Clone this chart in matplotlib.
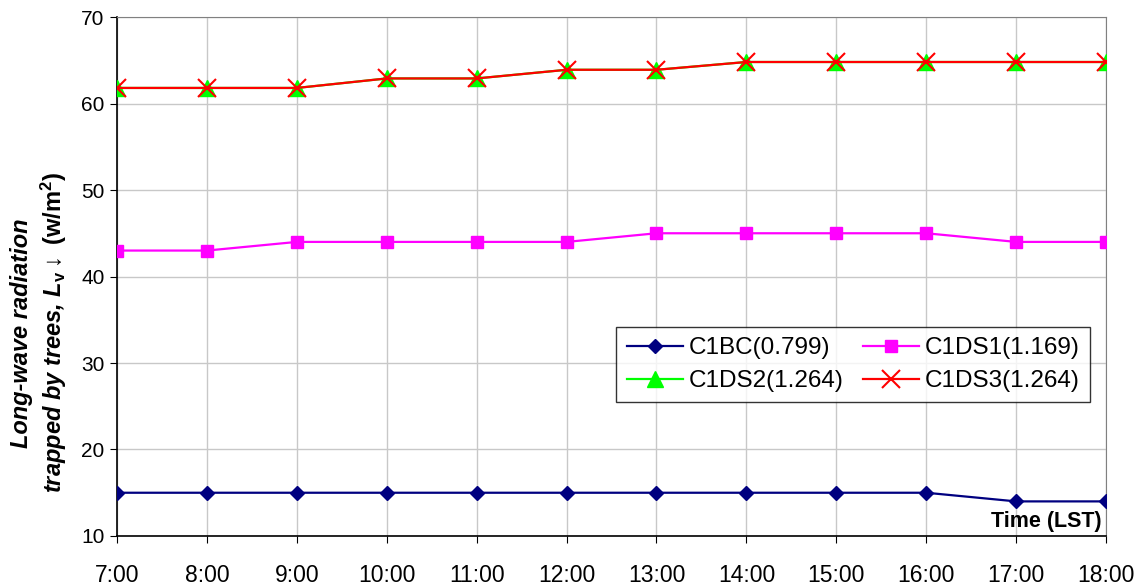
import matplotlib
matplotlib.use("Agg")
import matplotlib.pyplot as plt

plt.rcParams['font.family'] = ['Liberation Sans', 'DejaVu Sans']
plt.rcParams['mathtext.fontset'] = 'custom'
plt.rcParams['mathtext.rm'] = 'Liberation Sans:bold'
plt.rcParams['mathtext.it'] = 'Liberation Sans:italic:bold'
plt.rcParams['mathtext.bf'] = 'Liberation Sans:bold'

hours = ["7:00", "8:00", "9:00", "10:00", "11:00", "12:00",
         "13:00", "14:00", "15:00", "16:00", "17:00", "18:00"]
c1bc = [15, 15, 15, 15, 15, 15, 15, 15, 15, 15, 14, 14]
c1ds1 = [43, 43, 44, 44, 44, 44, 45, 45, 45, 45, 44, 44]
c1ds2 = [61.8, 61.8, 61.8, 62.9, 62.9, 63.9, 63.9, 64.8, 64.8, 64.8, 64.8, 64.8]
c1ds3 = [61.8, 61.8, 61.8, 62.9, 62.9, 63.9, 63.9, 64.8, 64.8, 64.8, 64.8, 64.8]

fig = plt.figure(figsize=(11.42, 5.87), dpi=100)
ax = fig.add_axes([0.1025, 0.0869, 0.866, 0.8841])

x = list(range(len(hours)))
h_bc, = ax.plot(x, c1bc, color='#000080', lw=1.6, marker='D', ms=7,
                label='C1BC(0.799)', zorder=3)
h_ds1, = ax.plot(x, c1ds1, color='#FF00FF', lw=1.6, marker='s', ms=8,
                 label='C1DS1(1.169)', zorder=3)
h_ds2, = ax.plot(x, c1ds2, color='#00FF00', lw=1.6, marker='^', ms=11,
                 label='C1DS2(1.264)', zorder=3)
h_ds3, = ax.plot(x, c1ds3, color='#FF0000', lw=1.6, marker='x', ms=13,
                 mew=1.5, label='C1DS3(1.264)', zorder=4)

ax.set_xlim(0, len(hours) - 1)
ax.set_ylim(10, 70)
ax.set_xticks(x)
ax.set_xticklabels(hours, fontsize=16.5)
ax.set_yticks(range(10, 71, 10))
ax.tick_params(axis='y', labelsize=15, length=5, direction='out', pad=4)
ax.tick_params(axis='x', length=5, direction='out', pad=15)
ax.grid(True, color='#c8c8c8', lw=1)
ax.set_axisbelow(True)

for s in ('top', 'right'):
    ax.spines[s].set_color('#808080')
for s in ('left', 'bottom'):
    ax.spines[s].set_color('black')
    ax.spines[s].set_linewidth(1.2)

# column-wise fill: first column BC / DS2, second column DS1 / DS3
handles = [h_bc, h_ds2, h_ds1, h_ds3]
leg = ax.legend(handles, [h.get_label() for h in handles], ncol=2,
                loc='upper left', bbox_to_anchor=(0.505, 0.403),
                borderaxespad=0, fontsize=17.5, frameon=True, fancybox=False,
                edgecolor='black', handlelength=2.3, columnspacing=0.8,
                handletextpad=0.25, borderpad=0.42, labelspacing=0.45)
leg.get_frame().set_linewidth(1.0)

ax.text(0.996, 0.027, 'Time (LST)', transform=ax.transAxes, ha='right',
        va='center', fontsize=15.5, fontweight='bold')

fig.text(0.035, 0.433,
         "Long-wave radiation\n"
         r"trapped by trees, $L_\mathrm{v}\mathrm{\downarrow\ (w/m^2)}$",
         rotation=90, ha='center', va='center', multialignment='center',
         fontsize=17, fontstyle='italic', fontweight='bold', linespacing=1.25)

fig.savefig('out.png', dpi=100)
